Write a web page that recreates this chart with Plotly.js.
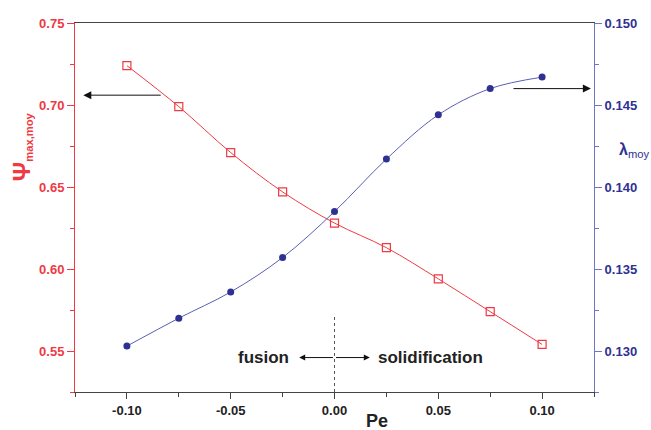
<!DOCTYPE html>
<html><head><meta charset="utf-8">
<script src="https://cdn.plot.ly/plotly-3.0.1.min.js"></script>
<style>body{margin:0;background:#fff}#c{width:651px;height:430px}</style>
</head><body><div id="c"></div>
<script>
var pe = [-0.10, -0.075, -0.05, -0.025, 0.0, 0.025, 0.05, 0.075, 0.10];
var psi = [0.724, 0.699, 0.671, 0.647, 0.628, 0.613, 0.594, 0.574, 0.554];
var lambda = [0.1303, 0.1320, 0.1336, 0.1357, 0.1385, 0.1417, 0.1444, 0.1460, 0.1467];
var xTicks = [-0.10, -0.05, 0.00, 0.05, 0.10];
var xTickText = ['-0.10', '-0.05', '0.00', '0.05', '0.10'];
var yTicks = [0.55, 0.60, 0.65, 0.70, 0.75];
var yTickText = ['0.55', '0.60', '0.65', '0.70', '0.75'];
var y2Ticks = [0.130, 0.135, 0.140, 0.145, 0.150];
var y2TickText = ['0.130', '0.135', '0.140', '0.145', '0.150'];

var RED = '#ee3a43', BLUE = '#2e3192', BLUEL = '#5a5fb5', BLUEAX = '#7075c4';
var FONT = 'Liberation Sans, Arial, sans-serif';

var traces = [
  {x: pe, y: psi, type: 'scatter', mode: 'lines+markers', yaxis: 'y',
   line: {color: RED, width: 1, shape: 'spline'},
   marker: {symbol: 'square-open', size: 8, color: RED, line: {width: 1.2}}},
  {x: pe, y: lambda, type: 'scatter', mode: 'lines+markers', yaxis: 'y2',
   line: {color: BLUEL, width: 1, shape: 'spline'},
   marker: {symbol: 'circle', size: 7, color: BLUE}}
];

var layout = {
  width: 651, height: 430,
  margin: {l: 75, r: 57, t: 23, b: 38},
  paper_bgcolor: '#fff', plot_bgcolor: '#fff',
  showlegend: false,
  font: {family: FONT},
  xaxis: {range: [-0.125, 0.125], tickvals: xTicks, ticktext: xTickText,
    showgrid: false, zeroline: false, showline: true, linecolor: '#444', linewidth: 1,
    mirror: true, ticks: 'outside', ticklen: 6, tickcolor: '#444',
    minor: {dtick: 0.025, tick0: 0, ticks: 'outside', ticklen: 4, tickcolor: '#444'},
    tickfont: {size: 13, color: '#222', family: FONT, weight: 'bold'}},
  yaxis: {range: [0.525, 0.75], tickvals: yTicks, ticktext: yTickText,
    showgrid: false, zeroline: false, showline: true, linecolor: RED, linewidth: 1,
    ticks: 'outside', ticklen: 7, tickcolor: RED,
    minor: {dtick: 0.025, tick0: 0.5, ticks: 'outside', ticklen: 4, tickcolor: RED},
    tickfont: {size: 13, color: RED, family: FONT, weight: 'bold'}},
  yaxis2: {range: [0.1275, 0.150], tickvals: y2Ticks, ticktext: y2TickText,
    overlaying: 'y', side: 'right',
    showgrid: false, zeroline: false, showline: true, linecolor: BLUEAX, linewidth: 1,
    ticks: 'outside', ticklen: 7, tickcolor: BLUEAX,
    minor: {dtick: 0.0025, tick0: 0.125, ticks: 'outside', ticklen: 4, tickcolor: BLUEAX},
    tickfont: {size: 13, color: BLUE, family: FONT, weight: 'bold'}},
  shapes: [
    {type: 'line', xref: 'x', yref: 'paper', x0: 0, x1: 0, y0: 0, y1: 0.21,
     line: {color: '#555', width: 1, dash: 'dot'}}
  ],
  annotations: [
    {xref: 'paper', yref: 'paper', x: -0.103, y: 0.665, xanchor: 'center', yanchor: 'middle',
     text: '<b style="font-size:24px">Ψ</b><sub><b>max,moy</b></sub>',
     textangle: -90, showarrow: false, font: {size: 16, color: RED}},
    {xref: 'paper', yref: 'paper', x: 1.045, y: 0.655, xanchor: 'left', yanchor: 'middle',
     text: '<b>λ</b><sub>moy</sub>',
     showarrow: false, font: {size: 16, color: BLUE}},
    {xref: 'paper', yref: 'paper', x: 0.582, y: -0.048, xanchor: 'center', yanchor: 'top',
     borderpad: 0, text: 'Pe', showarrow: false, font: {size: 18, color: '#222', weight: 'bold'}},
    {xref: 'x', yref: 'y', axref: 'x', ayref: 'y', x: -0.121, y: 0.706, ax: -0.083, ay: 0.706,
     text: '', showarrow: true, arrowhead: 2, arrowsize: 1.6, arrowwidth: 1, arrowcolor: '#111'},
    {xref: 'x', yref: 'y2', axref: 'x', ayref: 'y2', x: 0.1235, y: 0.1460, ax: 0.0855, ay: 0.1460,
     text: '', showarrow: true, arrowhead: 2, arrowsize: 1.6, arrowwidth: 1, arrowcolor: '#111'},
    {xref: 'x', yref: 'y', axref: 'x', ayref: 'y', x: -0.017, y: 0.546, ax: 0, ay: 0.546,
     text: '', showarrow: true, arrowhead: 2, arrowsize: 1.2, arrowwidth: 1, arrowcolor: '#111'},
    {xref: 'x', yref: 'y', axref: 'x', ayref: 'y', x: 0.017, y: 0.546, ax: 0, ay: 0.546,
     text: '', showarrow: true, arrowhead: 2, arrowsize: 1.2, arrowwidth: 1, arrowcolor: '#111'},
    {xref: 'x', yref: 'y', x: -0.0344, y: 0.546, text: 'fusion', showarrow: false,
     font: {size: 17, color: '#222', weight: 'bold'}},
    {xref: 'x', yref: 'y', x: 0.046, y: 0.546, text: 'solidification', showarrow: false,
     font: {size: 17, color: '#222', weight: 'bold'}}
  ]
};
Plotly.newPlot('c', traces, layout, {displayModeBar: false, staticPlot: true});
</script></body></html>
